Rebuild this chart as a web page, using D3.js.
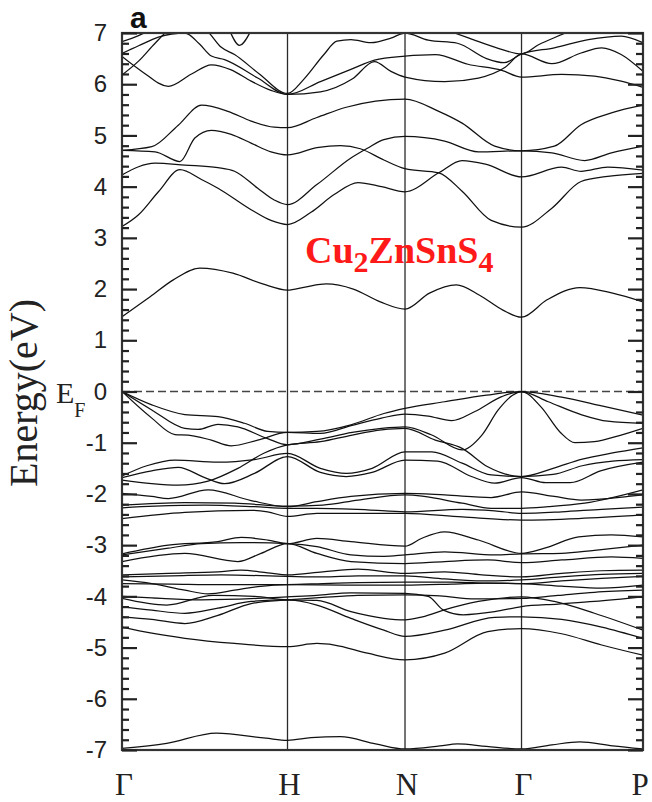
<!DOCTYPE html>
<html>
<head>
<meta charset="utf-8">
<script src="https://cdn.jsdelivr.net/npm/d3@7"></script>
<style>
  body { margin: 0; background: #fff; }
</style>
</head>
<body>
<svg id="chart" width="652" height="802"></svg>
<script>
// High-symmetry points along the k-path and the relative lengths of the path segments
const kLabels = ["Γ", "H", "N", "Γ", "P"];
const segmentLengths = [1.0, 0.710, 0.704, 0.734];
const majorTicks = d3.range(-7, 8, 1);

// Each band is a list of [path position, energy in eV];
// path position = segment index + fraction along the segment (0 = Γ, 1 = H, 2 = N, 3 = Γ, 4 = P).
const conductionBands = [
  [[0,1.46],[0.17,1.85],[0.31,2.18],[0.47,2.41],[0.67,2.31],[0.85,2.1],[1,1.98],[1.15,2.04],[1.33,2.1],[1.56,2.0],[1.79,1.75],[2,1.61],[2.21,1.92],[2.44,2.08],[2.64,1.88],[2.84,1.59],[3,1.45],[3.21,1.79],[3.48,2.03],[3.75,1.92],[4,1.75]],
  [[0,3.22],[0.1,3.45],[0.22,3.9],[0.35,4.33],[0.48,4.14],[0.58,3.97],[0.78,3.55],[0.9,3.34],[1,3.26],[1.2,3.5],[1.4,3.85],[1.6,4.08],[1.8,4.0],[2,3.9],[2.29,4.27],[2.49,4.51],[2.69,4.44],[3,4.19],[3.33,4.38],[3.49,4.3],[3.71,4.38],[4,4.32]],
  [[0,4.23],[0.2,4.46],[0.38,4.42],[0.58,4.37],[0.68,4.3],[0.82,3.97],[0.92,3.74],[1,3.65],[1.25,4.04],[1.54,4.56],[1.68,4.75],[1.82,4.92],[2,4.98],[2.34,4.89],[2.63,4.68],[3,4.70],[3.25,4.66],[3.52,4.51],[3.74,4.66],[4,4.79]],
  [[0,4.71],[0.2,4.68],[0.35,4.49],[0.44,4.95],[0.54,5.1],[0.66,5.02],[0.78,4.85],[0.9,4.68],[1,4.62],[1.25,4.76],[1.45,4.8],[1.62,4.74],[1.82,4.52],[2,4.35],[2.29,4.27],[2.49,3.91],[2.74,3.34],[3,3.21],[3.25,3.58],[3.49,4.1],[3.71,4.2],[4,4.26]],
  [[0,4.71],[0.18,4.78],[0.34,5.2],[0.48,5.59],[0.64,5.47],[0.78,5.28],[0.92,5.16],[1,5.15],[1.25,5.35],[1.5,5.55],[1.75,5.67],[2,5.71],[2.29,5.47],[2.49,5.24],[2.77,4.79],[3,4.70],[3.27,4.79],[3.49,5.21],[3.74,5.44],[4,5.59]],
  [[0,6.54],[0.12,6.25],[0.28,5.96],[0.42,6.2],[0.54,6.38],[0.66,6.28],[0.78,6.06],[0.9,5.88],[1,5.8],[1.28,5.85],[1.55,6.1],[1.74,6.44],[1.88,6.25],[2,6.14],[2.34,6.05],[2.63,6.12],[2.86,6.33],[3,6.59],[3.25,6.4],[3.49,6.61],[3.66,6.71],[3.82,6.58],[4,6.25]],
  [[0,6.6],[0.1,6.75],[0.22,6.92],[0.38,7.0],[0.47,6.78],[0.54,6.55],[0.62,6.48],[0.82,6.12],[1,5.8],[1.28,6.05],[1.55,6.3],[1.74,6.47],[2,6.55],[2.26,6.58],[2.54,6.39],[2.83,6.27],[3,6.14],[3.33,6.19],[3.6,6.16],[3.82,6.06],[4,5.94]],
  [[0,6.18],[0.1,6.45],[0.2,6.8],[0.3,7.1],[0.42,7.2],[0.52,7.02],[0.6,6.72],[0.68,6.58],[0.83,6.2],[1,5.82],[1.14,6.1],[1.31,6.58],[1.42,6.84],[1.54,6.87],[1.71,6.81],[1.88,6.9],[2,7.0],[2.2,6.86],[2.45,6.8],[2.7,6.5],[2.85,6.42],[3,6.59],[3.27,6.71],[3.55,6.87],[3.82,6.94],[4,6.81]],
  [[0,6.83],[0.1,6.95],[0.2,7.1]],
  [[2.3,7.1],[2.55,6.9],[2.8,6.7],[3,6.59],[3.14,6.77],[3.36,7.0],[3.45,7.1]],
  [[0.65,7.05],[0.71,6.76],[0.78,7.05]]
];

const upperValenceBands = [
  [[0,0],[0.18,-0.26],[0.38,-0.45],[0.58,-0.49],[0.74,-0.62],[0.88,-0.78],[1,-0.80],[1.25,-0.78],[1.54,-0.65],[1.82,-0.43],[2,-0.33],[2.34,-0.2],[2.7,-0.07],[3,0],[3.33,-0.11],[3.66,-0.28],[4,-0.46]],
  [[0,0],[0.18,-0.36],[0.38,-0.72],[0.46,-0.74],[0.58,-0.64],[0.7,-0.69],[0.88,-0.92],[1,-1.04],[1.28,-0.93],[1.55,-0.8],[1.8,-0.72],[2,-0.69],[2.23,-0.85],[2.49,-1.14],[2.66,-0.85],[2.8,-0.36],[2.92,-0.08],[3,0],[3.16,-0.3],[3.32,-0.8],[3.44,-1.0],[3.6,-0.98],[3.82,-0.85],[4,-0.72]],
  [[0,0],[0.18,-0.52],[0.32,-0.84],[0.4,-0.85],[0.54,-0.95],[0.66,-1.06],[0.82,-0.95],[1,-0.80],[1.28,-0.82],[1.55,-0.66],[1.8,-0.52],[2,-0.44],[2.2,-0.48],[2.4,-0.57],[2.6,-0.39],[2.83,-0.1],[3,0],[3.22,-0.2],[3.49,-0.45],[3.71,-0.58],[4,-0.62]],
  [[0,-1.65],[0.15,-1.45],[0.32,-1.34],[0.58,-1.38],[0.8,-1.33],[1,-1.21],[1.28,-1.5],[1.5,-1.6],[1.72,-1.5],[2,-1.18],[2.23,-1.18],[2.49,-1.4],[2.74,-1.63],[3,-1.66],[3.26,-1.5],[3.5,-1.32],[3.75,-1.2],[4,-1.1]],
  [[0,-1.68],[0.18,-1.55],[0.34,-1.48],[0.5,-1.68],[0.62,-1.8],[0.8,-1.6],[1,-1.27],[1.28,-1.58],[1.5,-1.66],[1.72,-1.58],[2,-1.34],[2.28,-1.36],[2.57,-1.66],[2.77,-1.79],[3,-1.68],[3.2,-1.78],[3.4,-1.78],[3.65,-1.55],[4,-1.38]],
  [[0,-1.73],[0.18,-1.8],[0.34,-1.83],[0.52,-1.75],[0.7,-1.5],[0.86,-1.2],[1,-1.04],[1.28,-0.98],[1.55,-0.85],[1.8,-0.75],[2,-0.72],[2.26,-0.95],[2.49,-1.11],[2.71,-1.47],[3,-1.66],[3.26,-1.62],[3.5,-1.45],[3.75,-1.36],[4,-1.33]],
  [[0,-1.99],[0.18,-2.05],[0.28,-2.09],[0.52,-1.92],[0.78,-2.13],[1,-2.25],[1.25,-2.15],[1.54,-2.05],[2,-1.99],[2.34,-2.02],[2.74,-2.07],[3,-1.96],[3.27,-2.05],[3.49,-2.12],[3.88,-2.05],[4,-2.02]],
  [[0,-2.22],[0.38,-2.17],[0.68,-2.18],[1,-2.24],[1.3,-2.22],[1.6,-2.12],[2,-2.02],[2.49,-2.18],[2.74,-2.28],[3,-2.28],[3.22,-2.25],[3.52,-2.18],[4,-1.92]],
  [[0,-2.27],[0.2,-2.24],[0.5,-2.22],[0.8,-2.25],[1,-2.28],[1.25,-2.28],[1.68,-2.31],[2,-2.35],[2.49,-2.3],[2.77,-2.33],[3,-2.38],[3.33,-2.35],[3.66,-2.3],[4,-2.26]],
  [[0,-2.48],[0.38,-2.36],[0.78,-2.32],[0.88,-2.35],[1,-2.44],[1.25,-2.38],[1.68,-2.38],[2,-2.38],[2.49,-2.45],[3,-2.51],[3.47,-2.48],[4,-2.41]]
];

const lowerValenceBands = [
  [[0,-3.17],[0.28,-3.0],[0.58,-2.93],[0.72,-2.85],[0.88,-2.9],[1,-2.97],[1.25,-2.87],[1.54,-2.93],[2,-3.02],[2.14,-2.87],[2.34,-2.74],[2.63,-2.9],[3,-3.16],[3.19,-3.06],[3.47,-2.84],[3.74,-2.8],[4,-2.84]],
  [[0,-3.19],[0.28,-3.06],[0.48,-2.97],[0.72,-2.95],[1,-2.97],[1.25,-3.03],[1.54,-3.19],[1.82,-3.22],[2,-3.19],[2.34,-3.13],[2.77,-3.19],[3,-3.17],[3.33,-3.16],[3.6,-3.1],[4,-3.0]],
  [[0,-3.32],[0.38,-3.16],[0.7,-3.32],[0.84,-3.16],[1,-2.97],[1.25,-3.16],[1.54,-3.32],[2,-3.36],[2.34,-3.32],[2.71,-3.29],[3,-3.34],[3.33,-3.29],[3.74,-3.23],[4,-3.26]],
  [[0,-3.58],[0.28,-3.55],[0.58,-3.52],[0.72,-3.49],[0.88,-3.54],[1,-3.58],[1.3,-3.52],[1.6,-3.47],[2,-3.55],[2.34,-3.52],[2.66,-3.58],[3,-3.62],[3.33,-3.55],[3.66,-3.5],[4,-3.49]],
  [[0,-3.62],[0.3,-3.6],[0.6,-3.58],[1,-3.61],[1.3,-3.62],[1.6,-3.6],[2,-3.6],[2.34,-3.66],[2.66,-3.7],[3,-3.68],[3.33,-3.62],[3.66,-3.57],[4,-3.55]],
  [[0,-3.68],[0.18,-3.75],[0.38,-3.88],[0.52,-3.95],[0.68,-3.88],[0.82,-3.81],[1,-3.77],[1.5,-3.78],[2,-3.78],[2.4,-3.76],[2.7,-3.74],[3,-3.75],[3.33,-3.7],[3.66,-3.65],[4,-3.61]],
  [[0,-3.75],[0.3,-3.76],[0.6,-3.77],[1,-3.77],[1.3,-3.75],[1.6,-3.73],[2,-3.72],[2.4,-3.72],[2.7,-3.74],[3,-3.75],[3.33,-3.8],[3.66,-3.84],[4,-3.78]],
  [[0,-4.0],[0.18,-4.03],[0.48,-4.07],[0.82,-4.04],[1,-4.01],[1.25,-3.98],[1.54,-3.93],[2,-3.94],[2.2,-4.0],[2.33,-4.27],[2.5,-4.36],[2.77,-4.3],[3,-4.2],[3.3,-4.15],[3.6,-4.1],[4,-4.01]],
  [[0,-4.04],[0.27,-4.17],[0.55,-3.98],[0.8,-4.0],[1,-4.07],[1.25,-4.08],[1.54,-4.3],[1.82,-4.43],[2,-4.46],[2.15,-4.4],[2.33,-4.27],[2.63,-4.1],[3,-4.01],[3.27,-4.1],[3.6,-4.33],[4,-4.66]],
  [[0,-4.2],[0.18,-4.27],[0.38,-4.33],[0.58,-4.23],[0.78,-4.1],[1,-4.07],[1.25,-4.17],[1.54,-4.43],[1.82,-4.66],[2,-4.78],[2.34,-4.66],[2.77,-4.41],[3,-4.4],[3.33,-4.45],[3.66,-4.6],[4,-4.82]],
  [[0,-4.4],[0.18,-4.45],[0.38,-4.53],[0.58,-4.37],[0.78,-4.14],[1,-4.07],[1.3,-4.02],[1.6,-3.98],[2,-3.97],[2.3,-3.99],[2.6,-4.05],[3,-4.04],[3.3,-3.98],[3.6,-3.92],[4,-3.88]],
  [[0,-4.6],[0.18,-4.72],[0.38,-4.82],[0.68,-4.92],[1,-4.98],[1.25,-4.92],[1.4,-4.95],[1.68,-5.11],[2,-5.24],[2.34,-5.11],[2.71,-4.69],[3,-4.63],[3.33,-4.73],[3.66,-4.95],[4,-5.15]]
];

const deepBands = [
  [[0,-6.97],[0.27,-6.87],[0.57,-6.67],[0.87,-6.77],[1,-6.81],[1.2,-6.76],[1.45,-6.74],[1.75,-6.88],[2,-6.98],[2.3,-6.92],[2.45,-6.88],[2.7,-6.93],[3,-6.98],[3.25,-6.9],[3.48,-6.84],[3.75,-6.92],[4,-6.98]]
];

const bands = [...conductionBands, ...upperValenceBands, ...lowerValenceBands, ...deepBands];

// ---- layout ----
const plot = { left: 122, right: 643, top: 33, bottom: 750 };
const svg = d3.select("#chart");

const cumulative = [0];
segmentLengths.forEach(l => cumulative.push(cumulative[cumulative.length - 1] + l));
const pathTotal = cumulative[cumulative.length - 1];

const x = d3.scaleLinear()
  .domain(d3.range(kLabels.length))
  .range(cumulative.map(c => plot.left + (c / pathTotal) * (plot.right - plot.left)));

const y = d3.scaleLinear().domain([-7, 7]).range([plot.bottom, plot.top]);

svg.append("defs").append("clipPath").attr("id", "plot-clip")
  .append("rect")
  .attr("x", plot.left).attr("y", plot.top)
  .attr("width", plot.right - plot.left).attr("height", plot.bottom - plot.top);

// vertical lines at the interior high-symmetry points
svg.append("g").selectAll("line")
  .data(d3.range(1, kLabels.length - 1))
  .join("line")
  .attr("x1", d => x(d)).attr("x2", d => x(d))
  .attr("y1", plot.top).attr("y2", plot.bottom)
  .attr("stroke", "#2a2a2a").attr("stroke-width", 1.3);

// Fermi level
svg.append("line")
  .attr("x1", x(0)).attr("x2", x(kLabels.length - 1))
  .attr("y1", y(0)).attr("y2", y(0))
  .attr("stroke", "#444").attr("stroke-width", 1.4)
  .attr("stroke-dasharray", "8,4");

// bands
const line = d3.line()
  .x(d => x(d[0]))
  .y(d => y(d[1]))
  .curve(d3.curveMonotoneX);

svg.append("g").attr("clip-path", "url(#plot-clip)")
  .selectAll("path")
  .data(bands)
  .join("path")
  .attr("d", line)
  .attr("fill", "none")
  .attr("stroke", "#111")
  .attr("stroke-width", 1.25)
  .attr("stroke-linejoin", "round");

// frame
svg.append("rect")
  .attr("x", plot.left).attr("y", plot.top)
  .attr("width", plot.right - plot.left).attr("height", plot.bottom - plot.top)
  .attr("fill", "none").attr("stroke", "#333").attr("stroke-width", 2.2);

// axes: major and minor ticks on both sides, pointing inward
const minorTicks = d3.range(-35, 36).filter(v => v % 5 !== 0).map(v => v / 5);

function styleAxis(g) {
  g.select(".domain").remove();
  g.selectAll(".tick line").attr("stroke", "#222").attr("stroke-width", 2.2);
}

svg.append("g")
  .attr("transform", `translate(${plot.left},0)`)
  .call(d3.axisLeft(y).tickValues(majorTicks).tickSize(-15).tickPadding(15).tickFormat(d => String(d)))
  .call(styleAxis)
  .call(g => g.selectAll("text")
    .attr("font-family", "'Liberation Sans', Arial, sans-serif")
    .attr("font-size", 24).attr("fill", "#222"));

svg.append("g")
  .attr("transform", `translate(${plot.left},0)`)
  .call(d3.axisLeft(y).tickValues(minorTicks).tickSize(-7).tickFormat(""))
  .call(styleAxis);

svg.append("g")
  .attr("transform", `translate(${plot.right},0)`)
  .call(d3.axisRight(y).tickValues(majorTicks).tickSize(-15).tickFormat(""))
  .call(styleAxis);

svg.append("g")
  .attr("transform", `translate(${plot.right},0)`)
  .call(d3.axisRight(y).tickValues(minorTicks).tickSize(-7).tickFormat(""))
  .call(styleAxis);

// k-point labels
svg.append("g").selectAll("text")
  .data(kLabels)
  .join("text")
  .attr("x", (d, i) => i === kLabels.length - 1 ? x(i) - 3 : x(i) + 2)
  .attr("y", 795)
  .attr("text-anchor", "middle")
  .attr("font-family", "'Liberation Serif', 'Times New Roman', serif")
  .attr("font-size", 31)
  .attr("fill", "#222")
  .text(d => d);

// y-axis title
svg.append("text")
  .attr("transform", "translate(37,393) rotate(-90)")
  .attr("text-anchor", "middle")
  .attr("font-family", "'Liberation Serif', 'Times New Roman', serif")
  .attr("font-size", 40)
  .attr("fill", "#222")
  .text("Energy(eV)");

// Fermi level label
const ef = svg.append("text")
  .attr("x", 56).attr("y", 403)
  .attr("font-family", "'Liberation Serif', 'Times New Roman', serif")
  .attr("font-size", 30)
  .attr("fill", "#222");
ef.append("tspan").text("E");
ef.append("tspan").attr("font-size", 20).attr("dy", 14).text("F");

// panel letter
svg.append("text")
  .attr("x", 130).attr("y", 28)
  .attr("font-family", "'Liberation Sans', Arial, sans-serif")
  .attr("font-weight", "bold")
  .attr("font-size", 30)
  .attr("fill", "#111")
  .text("a");

// compound label
const formula = [["Cu", false], ["2", true], ["ZnSnS", false], ["4", true]];
const compound = svg.append("text")
  .attr("x", 305).attr("y", 263)
  .attr("font-family", "'Liberation Serif', 'Times New Roman', serif")
  .attr("font-weight", "bold")
  .attr("font-size", 38)
  .attr("fill", "#ff1a1a");
let lowered = false;
formula.forEach(([t, sub]) => {
  const dy = sub && !lowered ? 9 : (!sub && lowered ? -9 : 0);
  lowered = sub;
  compound.append("tspan").attr("dy", dy).attr("font-size", sub ? 30 : 38).text(t);
});
</script>
</body>
</html>
